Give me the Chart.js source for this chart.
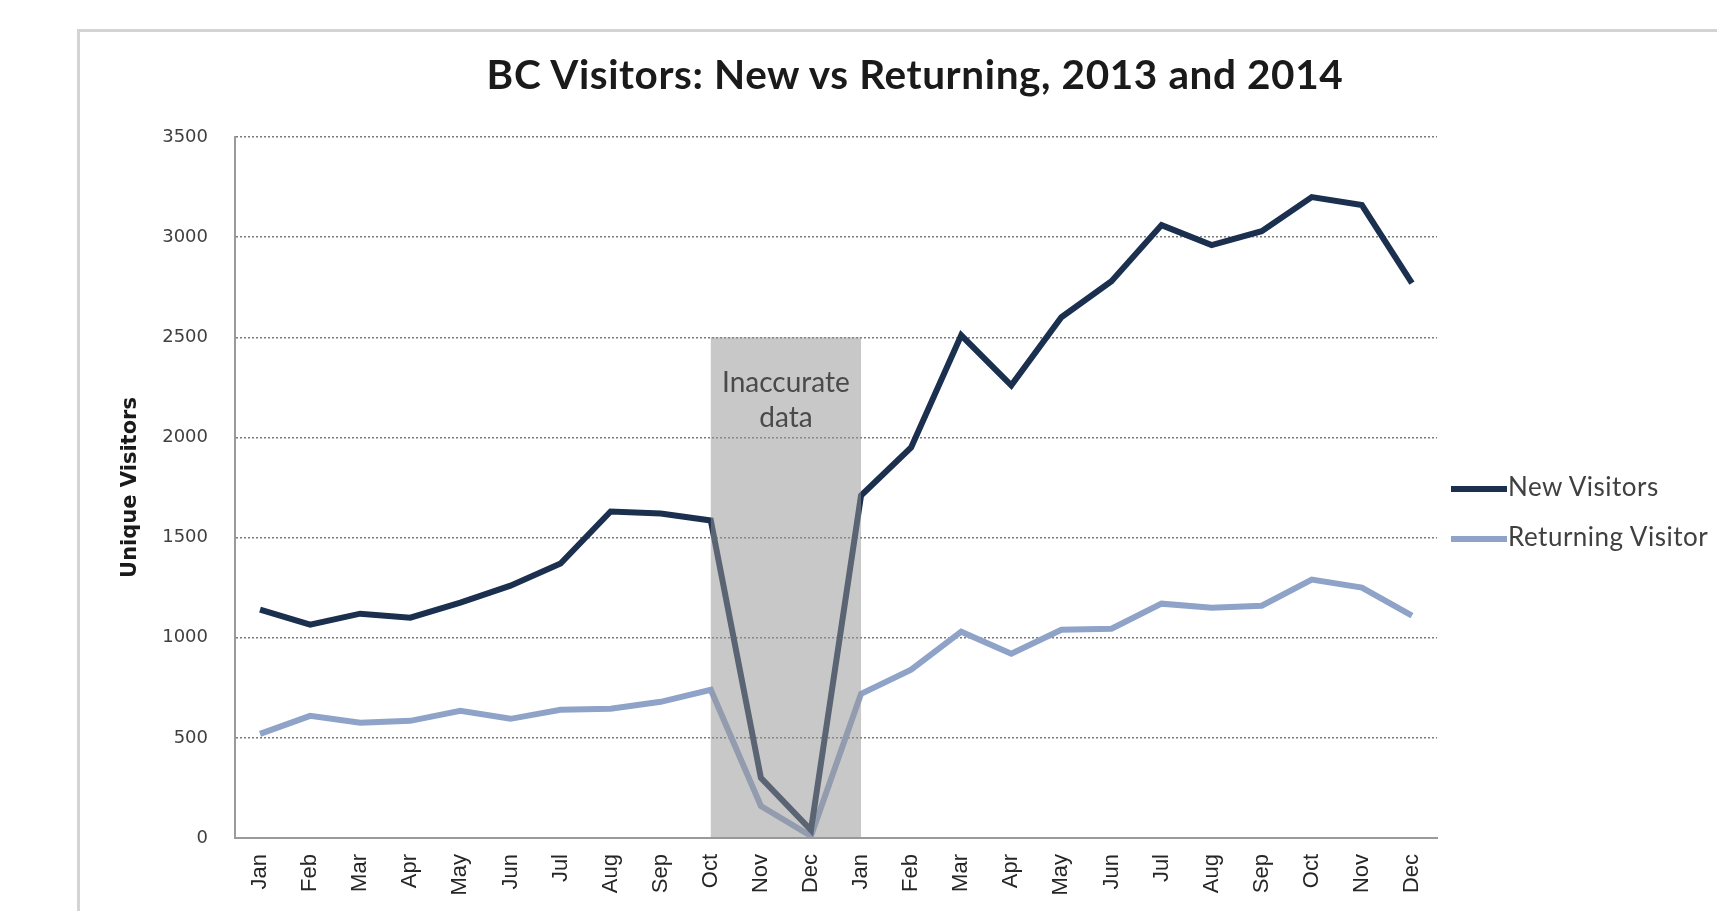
<!DOCTYPE html>
<html>
<head>
<meta charset="utf-8">
<script src="https://cdn.jsdelivr.net/npm/chart.js@4/dist/chart.umd.min.js"></script>
<style>
    body { margin: 0; background: #fff; overflow: hidden; }
    #frame { position: absolute; left: 77px; top: 29px; width: 1700px; height: 1000px; border: 3px solid #d4d4d4; }
    #wrap { position: absolute; left: 0; top: 0; width: 1717px; height: 911px; }
    #title { position: absolute; left: 0; width: 1830px; top: 49px; text-align: center; font-family: Lato, "Open Sans", sans-serif; font-weight: bold; font-size: 40.5px; letter-spacing: 0.6px; color: #1a1a1a; }
    .leg { position: absolute; left: 1451px; font-family: Lato, "Open Sans", sans-serif; font-size: 26px; letter-spacing: 0.5px; color: #404040; white-space: nowrap; }
    .leg span { display: inline-block; width: 56px; height: 6px; vertical-align: middle; margin-right: 1px; }
</style>
</head>
<body>
<div id="frame"></div>
<div id="wrap"><canvas id="visitors" width="1717" height="911"></canvas></div>
<div id="title">BC Visitors: New vs Returning, 2013 and 2014</div>
<div class="leg" style="top: 470px;"><span style="background:#1b2f4f"></span>New Visitors</div>
<div class="leg" style="top: 520px;"><span style="background:#8fa3c8"></span>Returning Visitor</div>

<script>
const months = ["Jan", "Feb", "Mar", "Apr", "May", "Jun", "Jul", "Aug", "Sep", "Oct", "Nov", "Dec",
                "Jan", "Feb", "Mar", "Apr", "May", "Jun", "Jul", "Aug", "Sep", "Oct", "Nov", "Dec"];
const newVisitors = [1140, 1065, 1120, 1100, 1175, 1260, 1370, 1630, 1620, 1585, 300, 40,
                     1710, 1950, 2510, 2260, 2600, 2780, 3060, 2960, 3030, 3200, 3160, 2770];
const returningVisitors = [520, 610, 575, 585, 635, 595, 640, 645, 680, 740, 160, 10,
                           720, 840, 1030, 920, 1040, 1045, 1170, 1150, 1160, 1290, 1250, 1110];
// shaded period: Oct 2013 .. Jan 2014, up to 2500
const inaccurateFrom = 9;
const inaccurateTo = 12;
const inaccurateTop = 2500;

const inaccurateBox = {
    id: "inaccurateBox",
    afterDatasetsDraw(chart) {
        const ctx = chart.ctx;
        const x = chart.scales.x, y = chart.scales.y;
        const left = x.getPixelForValue(inaccurateFrom);
        const right = x.getPixelForValue(inaccurateTo);
        const top = y.getPixelForValue(inaccurateTop);
        const bottom = y.getPixelForValue(0);
        ctx.save();
        ctx.fillStyle = "rgba(150,150,150,0.52)";
        ctx.fillRect(left, top, right - left, bottom - top);
        ctx.fillStyle = "#4a4a4a";
        ctx.font = "28px Lato, 'Open Sans', sans-serif";
        ctx.textAlign = "center";
        ctx.textBaseline = "middle";
        const cx = (left + right) / 2;
        ctx.fillText("Inaccurate", cx, top + 46);
        ctx.fillText("data", cx, top + 81);
        ctx.restore();
    }
};

new Chart(document.getElementById("visitors"), {
    type: "line",
    data: {
        labels: months,
        datasets: [{
            label: "New Visitors",
            data: newVisitors,
            borderColor: "#1b2f4f",
            borderWidth: 6,
            pointRadius: 0,
            tension: 0
        }, {
            label: "Returning Visitor",
            data: returningVisitors,
            borderColor: "#8fa3c8",
            borderWidth: 6,
            pointRadius: 0,
            tension: 0
        }]
    },
    options: {
        responsive: false,
        animation: false,
        layout: { padding: { left: 118, right: 280, top: 137, bottom: 0 } },
        plugins: {
            legend: { display: false },
            title: { display: false },
            tooltip: { enabled: false }
        },
        scales: {
            x: {
                offset: true,
                grid: { display: false, drawTicks: false },
                border: { color: "#9a9a9a", width: 2 },
                ticks: {
                    minRotation: 90, maxRotation: 90, padding: 16,
                    color: "#262626",
                    font: { family: "'Liberation Sans', Arial, sans-serif", size: 22 }
                },
                afterFit(scale) { scale.height = 73; }
            },
            y: {
                min: 0, max: 3500,
                grid: {
                    color: "#7a7a7a", lineWidth: 1.5, drawTicks: false
                },
                border: { color: "#9a9a9a", width: 2, dash: [2, 2] },
                ticks: {
                    stepSize: 500, padding: 27,
                    color: "#404040",
                    callback: (v) => String(v),
                    font: { family: "'DejaVu Sans', sans-serif", size: 18 }
                },
                title: {
                    display: true,
                    text: "Unique Visitors",
                    color: "#1a1a1a",
                    padding: 0,
                    font: { family: "'DejaVu Sans', sans-serif", size: 21, weight: "bold" }
                },
                afterFit(scale) { scale.width = 117; }
            }
        }
    },
    plugins: [inaccurateBox]
});
</script>
</body>
</html>
